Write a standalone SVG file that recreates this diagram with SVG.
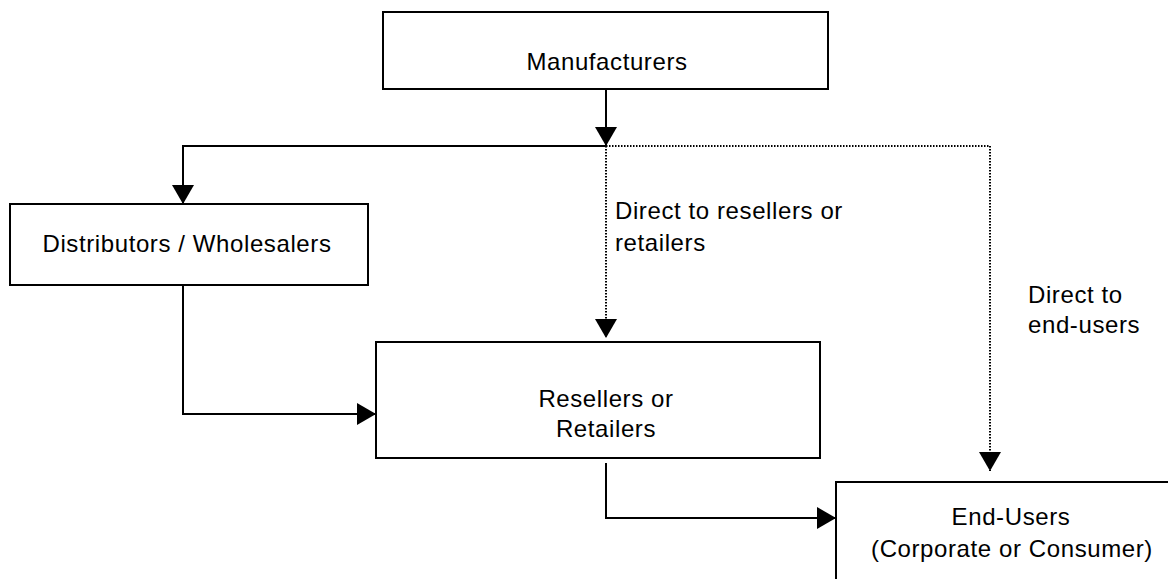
<svg xmlns="http://www.w3.org/2000/svg" width="1168" height="579" viewBox="0 0 1168 579">
<style>
.box{fill:#fff;stroke:#000;stroke-width:2}
.t{font-family:"Liberation Sans",Arial,sans-serif;font-size:24px;letter-spacing:0.6px;fill:#000}
.m{text-anchor:middle}
.ln{fill:none;stroke:#000;stroke-width:2}
.dot{fill:none;stroke:#000;stroke-width:2;stroke-dasharray:1.5 1.5}
</style>
<defs>
<marker id="ah" markerUnits="userSpaceOnUse" markerWidth="20" markerHeight="22" refX="19" refY="11" orient="auto" viewBox="0 0 20 22">
<path d="M0,0 L19,11 L0,22 z" fill="#000"/>
</marker>
</defs>
<rect width="1168" height="579" fill="#fff"/>
<g id="connectors">
<path class="dot" d="M606,146 V338" marker-end="url(#ah)"/>
<path class="dot" d="M606,146 H990 V471" marker-end="url(#ah)"/>
<path class="ln" d="M606,89 V146" marker-end="url(#ah)"/>
<path class="ln" d="M607,146 H183 V204" marker-end="url(#ah)"/>
<path class="ln" d="M183,285 V414 H376" marker-end="url(#ah)"/>
<path class="ln" d="M606,463 V518 H836" marker-end="url(#ah)"/>
<text class="t" x="615" y="219">Direct to resellers or</text>
<text class="t" x="615" y="251">retailers</text>
<text class="t" x="1028" y="303">Direct to</text>
<text class="t" x="1028" y="333">end-users</text>
</g>
<g id="manufacturers">
<rect class="box" x="383" y="12" width="445" height="77"/>
<text class="t m" x="607" y="70">Manufacturers</text>
</g>
<g id="distributors">
<rect class="box" x="10" y="204" width="358" height="81"/>
<text class="t m" x="187" y="252">Distributors / Wholesalers</text>
</g>
<g id="resellers">
<rect class="box" x="376" y="342" width="444" height="116"/>
<text class="t m" x="606" y="407">Resellers or</text>
<text class="t m" x="606" y="437">Retailers</text>
</g>
<g id="endusers">
<rect class="box" x="836" y="482" width="360" height="120"/>
<text class="t m" x="1011" y="525">End-Users</text>
<text class="t m" x="1012" y="557">(Corporate or Consumer)</text>
</g>
</svg>
